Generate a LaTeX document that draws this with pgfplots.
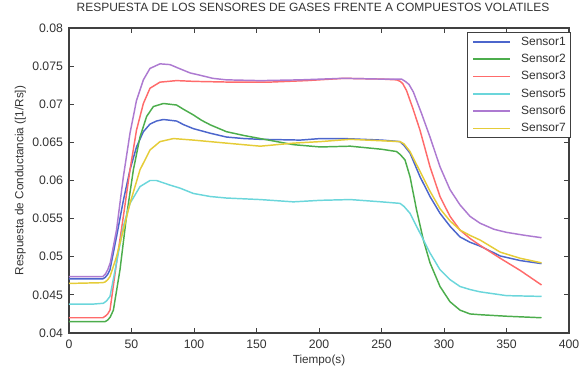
\documentclass[border=0pt]{standalone}
\usepackage{pgfplots}
\pgfplotsset{compat=1.18}
\usepackage{fontspec}
\setmainfont{Liberation Sans}
\definecolor{cS1}{rgb}{0.30,0.40,0.80}
\definecolor{cS2}{rgb}{0.30,0.68,0.30}
\definecolor{cS3}{rgb}{1.00,0.42,0.42}
\definecolor{cS5}{rgb}{0.42,0.84,0.86}
\definecolor{cS6}{rgb}{0.68,0.48,0.82}
\definecolor{cS7}{rgb}{0.90,0.80,0.22}
\begin{document}
\begin{tikzpicture}
\begin{axis}[
  name=ax,
  scale only axis,
  width=375pt, height=228.75pt,
  xmin=0, xmax=400, ymin=0.04, ymax=0.08,
  xtick={0,50,...,400},
  ytick={0.04,0.045,0.05,0.055,0.06,0.065,0.07,0.075,0.08},
  scaled y ticks=false,
  yticklabel style={/pgf/number format/fixed,/pgf/number format/precision=3, xshift=-1pt},
  xticklabel style={anchor=base, yshift=-11.5pt},
  /pgf/number format/assume math mode=true,
  tick align=inside, tick pos=both,
  major tick length=4pt,
  axis line style={draw=black!75, line width=1pt},
  every tick/.style={black!75, line width=0.6pt},
  tick label style={font=\fontsize{9.2}{10}\selectfont, text=black!80},
  title={RESPUESTA DE LOS SENSORES DE GASES FRENTE A COMPUESTOS VOLATILES},
  title style={font=\fontsize{9}{10}\selectfont, text=black!80, at={(axis description cs:0.5,1)}, anchor=base, yshift=6pt, xshift=-4.5pt},
  xlabel={Tiempo(s)},
  ylabel={Respuesta de Conductancia ([1/Rs])},
  label style={font=\fontsize{8.8}{10}\selectfont, text=black!80},
  xlabel style={at={(axis description cs:0.5,0)}, anchor=base, yshift=-22.5pt},
  ylabel style={at={(axis description cs:-0.0973,0.5)}, anchor=center},
  legend style={at={(axis description cs:1,1)}, anchor=north east, xshift=1.5pt, yshift=-3pt,
    font=\fontsize{9}{10}\selectfont,
    draw=black!75, line width=0.8pt, inner xsep=3.5pt, inner ysep=2.5pt, row sep=4pt,
    nodes={inner sep=0pt, text height=7pt, text depth=2pt}, text=black!80,
    /tikz/every odd column/.append style={column sep=8pt}},
  legend cell align=left,
  legend image code/.code={\draw[#1, line width=1.1pt] (0pt,0pt) -- (27.5pt,0pt);},
  every axis plot/.append style={line width=1.1pt, line join=round},
]
\addplot[cS1] coordinates {(0,0.0471)(27,0.0471)(29,0.0473)(31,0.0477)(32.8,0.0483)(38,0.0526)(43.5,0.0574)(48.8,0.0614)(54,0.0644)(59.5,0.0664)(64.8,0.0674)(70,0.0678)(75.5,0.0680)(86,0.0678)(92,0.0673)(99.5,0.0668)(113,0.0662)(126,0.0657)(140,0.0655)(153,0.0654)(185,0.0653)(201,0.0655)(220,0.0655)(250,0.0653)(264.8,0.0651)(268,0.0646)(272.8,0.0636)(280.8,0.0605)(288.8,0.0579)(296.8,0.0557)(304.8,0.0540)(312.8,0.0526)(320.8,0.0519)(328.8,0.0514)(345,0.0501)(361,0.0495)(378,0.0491)};
\addlegendentry{Sensor1}
\addplot[cS2] coordinates {(0,0.0415)(29,0.0415)(31,0.0417)(33,0.0421)(35.5,0.0430)(40.8,0.0483)(46,0.0553)(51.5,0.0614)(56.8,0.0657)(62.1,0.0684)(67.5,0.0697)(75.5,0.0701)(86,0.0699)(92,0.0693)(99.5,0.0686)(106,0.0679)(113,0.0673)(126,0.0664)(140,0.0659)(153,0.0655)(179.5,0.0647)(201,0.0644)(225,0.0645)(250,0.0641)(262,0.0638)(265,0.0634)(268.8,0.0627)(272.8,0.0605)(278.1,0.0561)(283.5,0.0522)(288.8,0.0492)(296.8,0.0461)(304.8,0.0441)(312.8,0.0430)(320.8,0.0425)(328.8,0.0424)(350,0.0422)(378,0.0420)};
\addlegendentry{Sensor2}
\addplot[cS3] coordinates {(0,0.0420)(27,0.0420)(29,0.0422)(31,0.0425)(32.8,0.0430)(38,0.0492)(43.5,0.0553)(48.8,0.0614)(54,0.0666)(59.5,0.0701)(64.8,0.0721)(72.8,0.0729)(86,0.0731)(100,0.0730)(130,0.0729)(160,0.0729)(190,0.0731)(220,0.0734)(250,0.0733)(262,0.0732)(265,0.0730)(267,0.0727)(270,0.0718)(275,0.0695)(280.8,0.0666)(288.8,0.0618)(296.8,0.0579)(304.8,0.0553)(312.8,0.0535)(320.8,0.0524)(328.8,0.0515)(345,0.0498)(361,0.0482)(378,0.0463)};
\addlegendentry{Sensor3}
\addplot[cS5] coordinates {(0,0.0438)(20,0.0438)(27.5,0.0439)(30,0.0442)(32.8,0.0448)(38,0.0492)(43.5,0.0540)(48.8,0.0570)(56.8,0.0592)(64.8,0.0600)(70,0.0600)(80.8,0.0594)(88.8,0.0590)(99.5,0.0583)(113,0.0579)(126,0.0577)(153,0.0575)(179.5,0.0572)(201,0.0574)(225,0.0575)(250,0.0572)(264.8,0.0570)(268,0.0566)(272.8,0.0557)(280.8,0.0531)(288.8,0.0505)(296.8,0.0483)(304.8,0.0470)(312.8,0.0461)(320.8,0.0457)(328.8,0.0454)(350,0.0449)(378,0.0448)};
\addlegendentry{Sensor5}
\addplot[cS6] coordinates {(0,0.0474)(27,0.0474)(29,0.0477)(31,0.0483)(33,0.0492)(38,0.0535)(43.5,0.0605)(48.8,0.0662)(54,0.0705)(59.5,0.0732)(64.8,0.0747)(72.8,0.0753)(80.8,0.0752)(88,0.0747)(97,0.0741)(105,0.0738)(115,0.0734)(126,0.0732)(153,0.0731)(185,0.0732)(219.5,0.0734)(250,0.0733)(266,0.0733)(269,0.0730)(272,0.0726)(275.5,0.0716)(282,0.0688)(288.8,0.0657)(296.8,0.0618)(304.8,0.0588)(312.8,0.0568)(320.8,0.0553)(328.8,0.0544)(340,0.0536)(350,0.0532)(365,0.0528)(378,0.0525)};
\addlegendentry{Sensor6}
\addplot[cS7] coordinates {(0,0.0465)(27,0.0466)(29,0.0467)(31,0.0470)(32.8,0.0474)(38,0.0500)(43.5,0.0535)(48.8,0.0570)(56.8,0.0614)(64.8,0.0640)(72.8,0.0651)(83.5,0.0655)(99.5,0.0653)(126,0.0649)(153,0.0645)(179.5,0.0649)(201,0.0651)(225,0.0654)(264.8,0.0651)(268,0.0648)(272.8,0.0638)(280.8,0.0612)(288.8,0.0586)(296.8,0.0563)(304.8,0.0547)(312.8,0.0535)(320.8,0.0528)(328.8,0.0522)(345,0.0506)(361,0.0498)(378,0.0492)};
\addlegendentry{Sensor7}
\end{axis}
\pgfresetboundingbox
\path ([xshift=-51.75pt,yshift=-28.5pt]ax.south west) rectangle ([xshift=11.25pt,yshift=21pt]ax.north east);
\end{tikzpicture}
\end{document}
